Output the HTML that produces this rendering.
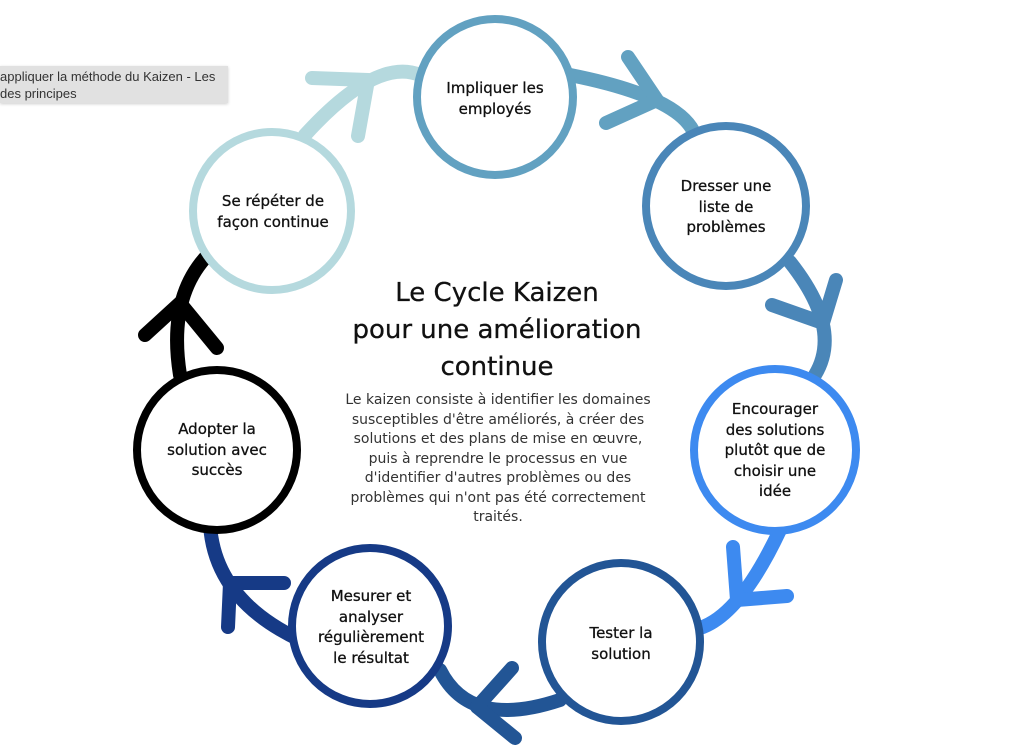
<!DOCTYPE html>
<html><head><meta charset="utf-8"><style>
body{margin:0;width:1024px;height:756px;background:#fff;overflow:hidden;position:relative;font-family:"DejaVu Sans","Liberation Sans",sans-serif;}
svg{position:absolute;left:0;top:0}
.tip{position:absolute;left:0;top:66px;width:228px;height:37px;background:#e1e1e1;box-shadow:0 1px 3px rgba(0,0,0,.2);font-family:"Liberation Sans",sans-serif;font-size:13px;color:#333;line-height:17px;padding-top:2px;box-sizing:border-box;white-space:nowrap;overflow:hidden}
</style></head><body>
<svg width="1024" height="756" viewBox="0 0 1024 756">
<g fill="none" stroke-width="14" stroke-linecap="round" stroke-linejoin="round">
<path d="M305 135 Q376 57 420 75" stroke="#b5d9de"/>
<polyline points="312,78 368,80 358,136" stroke="#b5d9de"/>
<path d="M570 75 Q681 97 695 135" stroke="#62a1c1"/>
<polyline points="628,57 657,100 606,123" stroke="#62a1c1"/>
<path d="M790 262 Q843 329 815 375" stroke="#4a86b8"/>
<polyline points="836,280 823,323 772,305" stroke="#4a86b8"/>
<path d="M780 530 Q740 615 700 628" stroke="#3d8af0"/>
<polyline points="733,547 737,600 787,596" stroke="#3d8af0"/>
<path d="M560 700 Q470 730 440 670" stroke="#225595"/>
<polyline points="512,668 477,707 515,738" stroke="#225595"/>
<path d="M300 640 Q215 600 210 525" stroke="#163a86"/>
<polyline points="284,583 230,583 228,627" stroke="#163a86"/>
<path d="M180 375 Q168 300 205 258" stroke="#000"/>
<polyline points="145,335 180,303 217,348" stroke="#000"/>
</g>
<g fill="#fff" stroke-width="8">
<circle cx="495" cy="97" r="78" stroke="#62a1c1"/>
<circle cx="726" cy="206" r="80" stroke="#4a86b8"/>
<circle cx="775" cy="450" r="81" stroke="#3d8af0"/>
<circle cx="621" cy="642" r="79" stroke="#225595"/>
<circle cx="370" cy="626" r="78" stroke="#163a86"/>
<circle cx="217" cy="450" r="80" stroke="#000"/>
<circle cx="272" cy="211" r="79" stroke="#b5d9de"/>
</g>
<g font-size="15" fill="#111" text-anchor="middle" stroke="#111" stroke-width="0.3">
<text x="495" y="93">Impliquer les</text><text x="495" y="114">employés</text>
<text x="726" y="191">Dresser une</text><text x="726" y="212">liste de</text><text x="726" y="232">problèmes</text>
<text x="775" y="414">Encourager</text><text x="775" y="435">des solutions</text><text x="775" y="455">plutôt que de</text><text x="775" y="476">choisir une</text><text x="775" y="496">idée</text>
<text x="621" y="638">Tester la</text><text x="621" y="659">solution</text>
<text x="371" y="601">Mesurer et</text><text x="371" y="622">analyser</text><text x="371" y="642">régulièrement</text><text x="371" y="663">le résultat</text>
<text x="217" y="434">Adopter la</text><text x="217" y="455">solution avec</text><text x="217" y="475">succès</text>
<text x="273" y="206">Se répéter de</text><text x="273" y="227">façon continue</text>
</g>
<g font-size="26" fill="#111" text-anchor="middle" stroke="#111" stroke-width="0.3">
<text x="497" y="301">Le Cycle Kaizen</text>
<text x="497" y="338">pour une amélioration</text>
<text x="497" y="375">continue</text>
</g>
<g font-size="14" fill="#333" text-anchor="middle">
<text x="498" y="404">Le kaizen consiste à identifier les domaines</text>
<text x="498" y="424">susceptibles d'être améliorés, à créer des</text>
<text x="498" y="443">solutions et des plans de mise en œuvre,</text>
<text x="498" y="463">puis à reprendre le processus en vue</text>
<text x="498" y="482">d'identifier d'autres problèmes ou des</text>
<text x="498" y="502">problèmes qui n'ont pas été correctement</text>
<text x="498" y="521">traités.</text>
</g>
</svg>
<div class="tip">appliquer la méthode du Kaizen - Les<br>des principes</div>
</body></html>
